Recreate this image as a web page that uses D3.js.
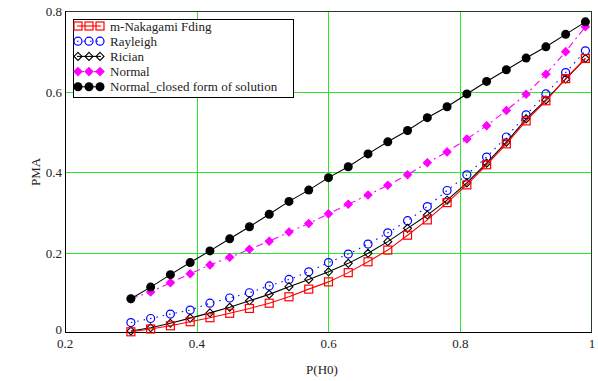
<!DOCTYPE html>
<html>
<head>
<meta charset="utf-8">
<script src="https://cdn.jsdelivr.net/npm/d3@7"></script>
<style>
  body { margin: 0; background: #fff; }
  text { font-family: "Liberation Serif", "DejaVu Serif", serif; }
</style>
</head>
<body>
<div id="chart"></div>
<script>
// x values, P(H0)
const pH0 = [0.30, 0.33, 0.36, 0.39, 0.42, 0.45, 0.48, 0.51, 0.54, 0.57, 0.60, 0.63,
             0.66, 0.69, 0.72, 0.75, 0.78, 0.81, 0.84, 0.87, 0.90, 0.93, 0.96, 0.99];

// PMA for each curve
const nakagami = [0.003, 0.010, 0.018, 0.028, 0.038, 0.049, 0.061, 0.074, 0.090, 0.109, 0.127, 0.150,
                  0.177, 0.206, 0.243, 0.281, 0.324, 0.368, 0.418, 0.470, 0.527, 0.577, 0.632, 0.682];
const rayleigh = [0.026, 0.036, 0.047, 0.057, 0.074, 0.087, 0.100, 0.117, 0.133, 0.152, 0.175, 0.196,
                  0.221, 0.249, 0.279, 0.314, 0.354, 0.393, 0.437, 0.487, 0.542, 0.594, 0.647, 0.701];
const rician = [0.005, 0.013, 0.024, 0.037, 0.050, 0.064, 0.080, 0.096, 0.115, 0.133, 0.152, 0.173,
                0.198, 0.227, 0.260, 0.293, 0.330, 0.373, 0.422, 0.474, 0.532, 0.579, 0.631, 0.682];
const normal = [0.085, 0.102, 0.125, 0.147, 0.169, 0.188, 0.208, 0.228, 0.251, 0.272, 0.296, 0.320,
                0.343, 0.367, 0.393, 0.423, 0.450, 0.482, 0.515, 0.553, 0.593, 0.643, 0.699, 0.761];
const normalClosed = [0.085, 0.114, 0.145, 0.175, 0.204, 0.234, 0.264, 0.295, 0.327, 0.355, 0.386, 0.413,
                      0.445, 0.475, 0.503, 0.535, 0.562, 0.594, 0.625, 0.654, 0.683, 0.711, 0.742, 0.773];

const xTicks = [0.2, 0.4, 0.6, 0.8, 1];
const yTicks = [0, 0.2, 0.4, 0.6, 0.8];
const xTickLabels = ["0.2", "0.4", "0.6", "0.8", "1"];
const yTickLabels = ["0", "0.2", "0.4", "0.6", "0.8"];

const series = [
  { name: "m-Nakagami Fding", values: nakagami, color: "#ff0000", dash: null, marker: "square" },
  { name: "Rayleigh", values: rayleigh, color: "#0000ff", dash: "1.5,5", marker: "circle" },
  { name: "Rician", values: rician, color: "#000000", dash: null, marker: "diamond" },
  { name: "Normal", values: normal, color: "#ff00ff", dash: "7,4,2,4", marker: "fdiamond" },
  { name: "Normal_closed form of solution", values: normalClosed, color: "#000000", dash: null, marker: "dot" }
];

const width = 598, height = 381;
const margin = { top: 11, right: 6, bottom: 48, left: 65 };

const svg = d3.select("#chart").append("svg")
  .attr("width", width)
  .attr("height", height);

const x = d3.scaleLinear().domain([0.2, 1]).range([margin.left, width - margin.right]);
const y = d3.scaleLinear().domain([0, 0.8]).range([height - margin.bottom, margin.top]);

// grid
const grid = svg.append("g").attr("stroke", "#2ee52e").attr("stroke-width", 1);
grid.selectAll("line.gx").data(xTicks.slice(1, -1)).join("line")
  .attr("x1", d => Math.round(x(d)) + 0.5).attr("x2", d => Math.round(x(d)) + 0.5)
  .attr("y1", y(0)).attr("y2", y(0.8));
grid.selectAll("line.gy").data(yTicks.slice(1, -1)).join("line")
  .attr("y1", d => Math.round(y(d)) + 0.5).attr("y2", d => Math.round(y(d)) + 0.5)
  .attr("x1", x(0.2)).attr("x2", x(1));

// frame
svg.append("line").attr("x1", x(0.2)).attr("x2", x(1)).attr("y1", y(0.8) + 0.5).attr("y2", y(0.8) + 0.5)
  .attr("stroke", "#1f3f1f");
svg.append("line").attr("x1", x(1) - 0.5).attr("x2", x(1) - 0.5).attr("y1", y(0.8)).attr("y2", y(0))
  .attr("stroke", "#1f3f1f");
svg.append("line").attr("x1", x(0.2) + 0.5).attr("x2", x(0.2) + 0.5).attr("y1", y(0.8)).attr("y2", y(0))
  .attr("stroke", "#000");
svg.append("line").attr("x1", x(0.2)).attr("x2", x(1)).attr("y1", y(0) - 0.5).attr("y2", y(0) - 0.5)
  .attr("stroke", "#000");

// tick labels
svg.selectAll("text.xt").data(xTicks).join("text")
  .attr("x", d => x(d)).attr("y", y(0) + 15)
  .attr("text-anchor", "middle").attr("font-size", 13).attr("fill", "#222")
  .text((d, i) => xTickLabels[i]);
svg.selectAll("text.yt").data(yTicks).join("text")
  .attr("x", x(0.2) - 3).attr("y", d => y(d) + (d === 0 ? 1 : 5))
  .attr("text-anchor", "end").attr("font-size", 13).attr("fill", "#222")
  .text((d, i) => yTickLabels[i]);

// axis titles
svg.append("text").attr("x", 322).attr("y", 374).attr("text-anchor", "middle")
  .attr("font-size", 13).attr("fill", "#222").text("P(H0)");
svg.append("text").attr("transform", "translate(40,172) rotate(-90)").attr("text-anchor", "middle")
  .attr("font-size", 13).attr("fill", "#222").text("PMA");

function drawMarker(g, type, color, cx, cy) {
  if (type === "square") {
    g.append("rect").attr("x", cx - 4).attr("y", cy - 4).attr("width", 8).attr("height", 8)
      .attr("fill", "none").attr("stroke", color).attr("stroke-width", 1.2);
  } else if (type === "circle") {
    g.append("circle").attr("cx", cx).attr("cy", cy).attr("r", 4)
      .attr("fill", "none").attr("stroke", color).attr("stroke-width", 1.2);
  } else if (type === "diamond" || type === "fdiamond") {
    const r = 4;
    g.append("path").attr("d", `M${cx},${cy - r}L${cx + r},${cy}L${cx},${cy + r}L${cx - r},${cy}Z`)
      .attr("fill", type === "fdiamond" ? color : "none").attr("stroke", color).attr("stroke-width", 1.1);
  } else if (type === "dot") {
    g.append("circle").attr("cx", cx).attr("cy", cy).attr("r", 4.5).attr("fill", color);
  }
}

const line = d3.line().x(d => x(d[0])).y(d => y(d[1]));

// draw order: last series on top
const order = [3, 1, 2, 0, 4];
order.forEach(k => {
  const s = series[k];
  const pts = pH0.map((p, i) => [p, s.values[i]]);
  const g = svg.append("g");
  g.append("path").datum(pts).attr("d", line)
    .attr("fill", "none").attr("stroke", s.color).attr("stroke-width", 1.1)
    .attr("stroke-dasharray", s.dash);
  pts.forEach(p => drawMarker(g, s.marker, s.color, x(p[0]), y(p[1])));
});

// legend
const lg = svg.append("g");
lg.append("rect").attr("x", 73.5).attr("y", 19.5).attr("width", 220).attr("height", 78)
  .attr("fill", "#fff").attr("stroke", "#000");
series.forEach((s, i) => {
  const cy = 26 + i * 15.2;
  const row = lg.append("g");
  row.append("line").attr("x1", 77).attr("x2", 101).attr("y1", cy).attr("y2", cy)
    .attr("stroke", s.color).attr("stroke-width", 1.1).attr("stroke-dasharray", s.dash);
  [78, 89, 100].forEach(mx => drawMarker(row, s.marker, s.color, mx, cy));
  row.append("text").attr("x", 110).attr("y", cy + 4.5).attr("font-size", 13).attr("fill", "#222")
    .text(s.name);
});
</script>
</body>
</html>
